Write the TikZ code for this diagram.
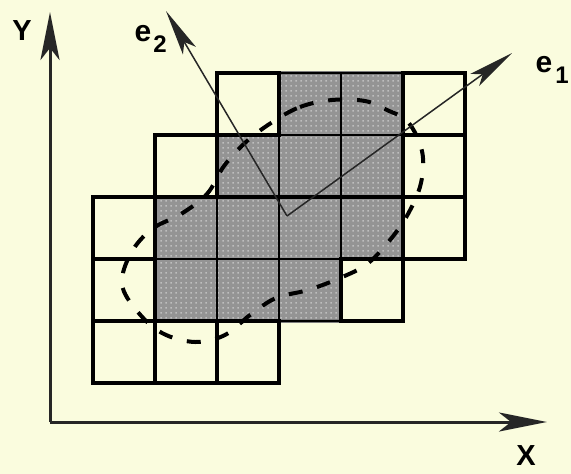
\documentclass[tikz,border=0pt]{standalone}
\usepackage{fontspec}
\setmainfont{Liberation Sans}
\usetikzlibrary{arrows.meta,patterns.meta}
\definecolor{bg}{RGB}{250,252,222}
\definecolor{cellgray}{RGB}{148,148,148}
\definecolor{dotgray}{RGB}{190,190,190}
\definecolor{shadowgray}{RGB}{125,125,125}
\tikzdeclarepattern{
  name=griddots,
  type=uncolored,
  bottom left={(0pt,0pt)},
  top right={(5.17pt,5.17pt)},
  tile size={(5.17pt,5.17pt)},
  code={\fill (1.6pt,1.6pt) rectangle (3.2pt,3.2pt);}
}
\begin{document}
\begin{tikzpicture}[x=1pt,y=-1pt,
  graycell/.style={fill=cellgray},
  graydots/.style={pattern=griddots,pattern color=dotgray},
  grayedge/.style={draw=shadowgray,line width=4.5pt,line join=miter},
  thinedge/.style={draw=black,line width=2pt,line join=miter},
  whitecell/.style={draw=black,fill=bg,line width=4.8pt,line join=miter},
  axisline/.style={line width=3pt,draw=black!85,-{Stealth[length=48pt,width=19pt,inset=12pt]}},
  vecline/.style={line width=1.5pt,draw=black!85,-{Stealth[length=46pt,width=15pt,inset=10pt]}},
  ellipsedash/.style={draw=black,line width=4pt,dash pattern=on 14pt off 15pt},
  axislabel/.style={inner sep=0pt,font=\fontsize{29}{29}\selectfont\bfseries},
  veclabel/.style={inner sep=0pt,font=\fontsize{30}{30}\selectfont\bfseries},
  subLabel/.style={inner sep=0pt,font=\fontsize{24}{24}\selectfont\bfseries}
]
\fill[bg] (0,0) rectangle (571,474);
\useasboundingbox (0,0) rectangle (571,474);

% gray cells
\foreach \x/\y in {279/73,341/73,217/135,279/135,341/135,155/197,217/197,279/197,341/197,155/259,217/259,279/259}{
  \fill[graycell] (\x,\y) rectangle ++(62,62);
  \fill[graydots] (\x,\y) rectangle ++(62,62);
}
% gray region shadow outline
\draw[grayedge] (279,73) -- (403,73) -- (403,259) -- (341,259) -- (341,321) -- (155,321) -- (155,197) -- (217,197) -- (217,135) -- (279,135) -- cycle;
% thin inner lines of gray cells
\foreach \x/\y in {279/73,341/73,217/135,279/135,341/135,155/197,217/197,279/197,341/197,155/259,217/259,279/259}{
  \draw[thinedge] (\x,\y) rectangle ++(62,62);
}
% white cells
\foreach \x/\y in {217/73,403/73,155/135,403/135,93/197,403/197,93/259,341/259,93/321,155/321,217/321}{
  \draw[whitecell] (\x,\y) rectangle ++(62,62);
}
% thick middle line
\draw[line width=4.8pt] (93,197) -- (465,197);

% dashed ellipse
\draw[ellipsedash] plot[smooth cycle,tension=0.6] coordinates {
  (271,123) (300,107) (332,100) (365,101) (387,110) (408,122) (422,151) (421,183)
  (408,214) (390,240) (367,264) (340,278) (308,290) (276,298) (250,315) (225,335)
  (195,342) (162,333) (137,311) (122,284) (131,253) (152,229) (181,214) (207,194)
  (224,166) (246,142)};

% axes
\coordinate (O) at (50,422);
\coordinate (Ytip) at (50,12);
\coordinate (Xtip) at (547,422);
\draw[axisline] (O) -- (Ytip);
\draw[axisline] (O) -- (Xtip);
\node[axislabel] (ylbl) at (22,31) {Y};
\node[axislabel] (xlbl) at (526,456) {X};

% eigenvectors
\coordinate (V) at (287,216);
\coordinate (E1) at (512,53);
\coordinate (E2) at (166,11);
\draw[vecline] (V) -- (E1);
\draw[vecline] (V) -- (E2);
\node[veclabel] (e1lbl) at (544,65) {e};
\node[subLabel] (e1sub) at (562,75) {1};
\node[veclabel] (e2lbl) at (143,34) {e};
\node[subLabel] (e2sub) at (160,44) {2};
\end{tikzpicture}
\end{document}
